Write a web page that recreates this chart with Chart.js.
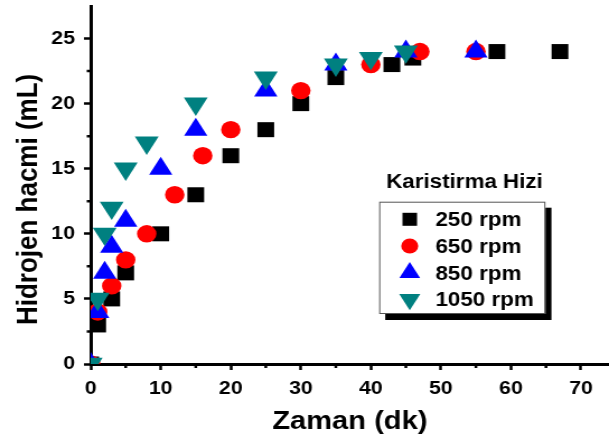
<!DOCTYPE html>
<html>
<head>
<meta charset="utf-8">
<script src="https://cdn.jsdelivr.net/npm/chart.js@4/dist/chart.umd.min.js"></script>
<style>
  html, body { margin: 0; padding: 0; background: #fff; overflow: hidden; }
  /* plot is laid out at 544px wide and widened to the full 609px window */
  #wrap { width: 544px; height: 442px; transform: scaleX(1.1195); transform-origin: 0 0; }
  canvas { display: block; }
</style>
</head>
<body>
<div id="wrap"><canvas id="c" width="544" height="442"></canvas></div>
<script>
// Hydrogen volume (mL) versus time (min) at four stirring speeds
const seriesLabels = ['250 rpm', '650 rpm', '850 rpm', '1050 rpm'];

const time250 = [0, 1, 3, 5, 10, 15, 20, 25, 30, 35, 43, 46, 58, 67];
const vol250  = [0, 3, 5, 7, 10, 13, 16, 18, 20, 22, 23, 23.5, 24, 24];

const time650 = [0, 1, 3, 5, 8, 12, 16, 20, 30, 40, 47, 55];
const vol650  = [0, 4, 6, 8, 10, 13, 16, 18, 21, 23, 24, 24];

const time850 = [0, 1, 2, 3, 5, 10, 15, 25, 35, 45, 55];
const vol850  = [0, 4, 7, 9, 11, 15, 18, 21, 23, 24, 24];

const time1050 = [0, 1, 2, 3, 5, 8, 15, 25, 35, 40, 45];
const vol1050  = [0, 5, 10, 12, 15, 17, 20, 22, 23, 23.5, 24];

const xTicks = [0, 10, 20, 30, 40, 50, 60, 70];
const yTicks = [0, 5, 10, 15, 20, 25];
const xMinorTicks = [5, 15, 25, 35, 45, 55, 65];
const yMinorTicks = [2.5, 7.5, 12.5, 17.5, 22.5];

const legendTitle = 'Karistirma Hizi';
const xTitle = 'Zaman (dk)';
const yTitle = 'Hidrojen hacmi (mL)';

const FAMILY = '"Liberation Sans", Arial, Helvetica, sans-serif';

function pairs(xs, ys) {
  return xs.map((x, i) => ({ x: x, y: ys[i] }));
}

const styles = [
  { color: '#000000', style: 'rect',     radius: 10.6, rotation: 0,   legendRadius: 9.2, order: 4 },
  { color: '#ff0000', style: 'circle',   radius: 8.7,  rotation: 0,   legendRadius: 7.6, order: 3 },
  { color: '#0000ff', style: 'triangle', radius: 12,   rotation: 0,   legendRadius: 10.7, order: 2 },
  { color: '#008080', style: 'triangle', radius: 12.3, rotation: 180, legendRadius: 10.9, order: 1 }
];

const seriesData = [
  pairs(time250, vol250),
  pairs(time650, vol650),
  pairs(time850, vol850),
  pairs(time1050, vol1050)
];

const datasets = seriesData.map((d, i) => ({
  label: seriesLabels[i],
  data: d,
  showLine: false,
  pointStyle: styles[i].style,
  pointRadius: styles[i].radius,
  pointHoverRadius: styles[i].radius,
  pointRotation: styles[i].rotation,
  pointBackgroundColor: styles[i].color,
  pointBorderColor: styles[i].color,
  pointBorderWidth: 0,
  order: styles[i].order,
  clip: 0
}));

// short minor tick marks between the labelled ones
const minorTicks = {
  id: 'minorTicks',
  afterDraw(chart) {
    const ctx = chart.ctx;
    const xs = chart.scales.x, ys = chart.scales.y;
    const area = chart.chartArea;
    ctx.save();
    ctx.strokeStyle = '#000';
    ctx.lineWidth = 2.5;
    ctx.beginPath();
    xMinorTicks.forEach(v => {
      const px = xs.getPixelForValue(v);
      ctx.moveTo(px, area.bottom);
      ctx.lineTo(px, area.bottom + 4);
    });
    yMinorTicks.forEach(v => {
      const py = ys.getPixelForValue(v);
      ctx.moveTo(area.left, py);
      ctx.lineTo(area.left - 3.5, py);
    });
    ctx.stroke();
    ctx.restore();
  }
};

// boxed legend with a drop shadow and a heading above it
const boxedLegend = {
  id: 'boxedLegend',
  afterDraw(chart) {
    const ctx = chart.ctx;
    const bx = 338.7, by = 201.7, bw = 148.5, bh = 112.3;
    ctx.save();
    ctx.fillStyle = '#000';
    ctx.fillRect(bx + 5.4, by + 6, bw, bh);
    ctx.fillStyle = '#fff';
    ctx.fillRect(bx, by, bw, bh);
    ctx.strokeStyle = '#555';
    ctx.lineWidth = 1;
    ctx.strokeRect(bx + 0.5, by + 0.5, bw - 1, bh - 1);

    ctx.fillStyle = '#000';
    ctx.font = 'bold 20px ' + FAMILY;
    ctx.textAlign = 'center';
    ctx.textBaseline = 'alphabetic';
    ctx.fillText(legendTitle, 414.9, 188.3);

    chart.data.datasets.forEach((ds, i) => {
      const rowY = 219.3 + 26.7 * i;
      ctx.fillStyle = styles[i].color;
      ctx.strokeStyle = styles[i].color;
      Chart.helpers.drawPoint(ctx, {
        pointStyle: styles[i].style,
        radius: styles[i].legendRadius,
        rotation: styles[i].rotation,
        borderWidth: 0
      }, 366, rowY);
      ctx.fillStyle = '#000';
      ctx.font = 'bold 20px ' + FAMILY;
      ctx.textAlign = 'left';
      ctx.textBaseline = 'alphabetic';
      ctx.fillText(ds.label, 389, rowY + 7);
    });
    ctx.restore();
  }
};

const tickFont = { family: FAMILY, size: 19, weight: 'bold' };
const titleFont = { family: FAMILY, size: 26, weight: 'bold' };

new Chart(document.getElementById('c'), {
  type: 'scatter',
  data: { datasets: datasets },
  options: {
    responsive: false,
    animation: false,
    devicePixelRatio: 1,
    layout: { autoPadding: false, padding: { top: 6, left: 0, right: 0, bottom: 0 } },
    plugins: {
      legend: { display: false },
      tooltip: { enabled: false }
    },
    scales: {
      x: {
        type: 'linear',
        position: 'bottom',
        min: 0,
        max: 74,
        afterBuildTicks: s => { s.ticks = xTicks.map(v => ({ value: v })); },
        afterFit: s => { s.height = 78; s.paddingLeft = 0; s.paddingRight = 0; },
        ticks: { font: tickFont, color: '#000', padding: 7, autoSkip: false, maxRotation: 0 },
        grid: { drawOnChartArea: false, drawTicks: true, tickLength: 6, tickWidth: 2.5, tickColor: '#000' },
        border: { display: true, color: '#000', width: 3 },
        title: { display: true, text: xTitle, font: titleFont, color: '#000', padding: { top: 0, bottom: 5 } }
      },
      y: {
        type: 'linear',
        position: 'left',
        min: 0,
        max: 27.5,
        afterBuildTicks: s => { s.ticks = yTicks.map(v => ({ value: v })); },
        afterFit: s => { s.width = 81; s.paddingTop = 0; s.paddingBottom = 0; },
        ticks: { font: tickFont, color: '#000', padding: 8, autoSkip: false },
        grid: { drawOnChartArea: false, drawTicks: true, tickLength: 6, tickWidth: 2.5, tickColor: '#000' },
        border: { display: true, color: '#000', width: 3 },
        title: { display: true, text: yTitle + '    ', font: titleFont, color: '#000', padding: { top: 10, bottom: 0 } }
      }
    }
  },
  plugins: [minorTicks, boxedLegend]
});
</script>
</body>
</html>
